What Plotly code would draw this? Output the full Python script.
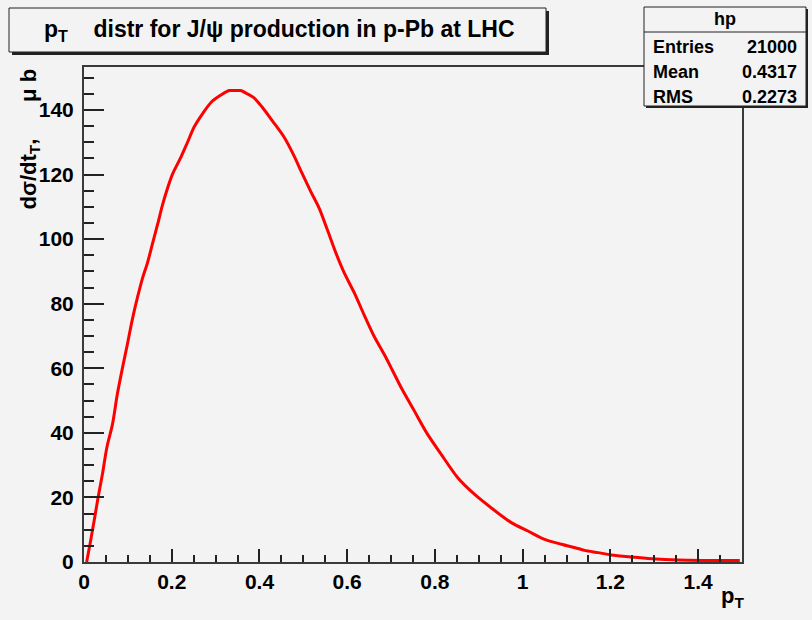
import plotly.graph_objects as go

# p_T spectrum of J/psi in p-Pb (histogram "hp")
pt = [0.006, 0.015, 0.023, 0.032, 0.042, 0.052, 0.065, 0.076, 0.088, 0.099,
      0.110, 0.122, 0.133, 0.145, 0.156, 0.168, 0.179, 0.190, 0.202, 0.221,
      0.236, 0.251, 0.270, 0.290, 0.312, 0.331, 0.345, 0.357, 0.372, 0.387,
      0.406, 0.429, 0.456, 0.478, 0.497, 0.517, 0.536, 0.555, 0.574, 0.593,
      0.616, 0.639, 0.661, 0.684, 0.703, 0.722, 0.753, 0.783, 0.814, 0.852,
      0.890, 0.928, 0.974, 1.012, 1.050, 1.088, 1.126, 1.141, 1.172, 1.202,
      1.248, 1.294, 1.355, 1.416, 1.495]
dsig = [0.0, 6.5, 12.7, 19.9, 27.2, 35.4, 42.7, 52.0, 60.3, 67.5,
        75.0, 82.0, 87.7, 92.8, 98.5, 104.7, 110.6, 115.6, 120.2, 125.4,
        130.0, 134.7, 138.8, 142.4, 144.6, 146.0, 146.0, 146.0, 145.0, 143.8,
        140.9, 136.7, 131.6, 126.0, 120.4, 114.7, 109.6, 102.8, 95.8, 89.6,
        83.4, 76.4, 70.0, 64.4, 59.4, 54.3, 46.8, 39.6, 33.4, 26.1,
        21.0, 16.8, 12.2, 9.6, 7.0, 5.5, 4.2, 3.6, 2.9, 2.2,
        1.55, 1.0, 0.6, 0.5, 0.5]

stats_labels = ["Entries", "Mean", "RMS"]
stats_values = ["21000", "0.4317", "0.2273"]
hist_name = "hp"

title_text = "p<sub>T</sub>\u00a0\u00a0\u00a0\u00a0distr for J/\u03c8 production in p-Pb at LHC"
ytitle_text = "d\u03c3/dt<sub>T</sub>,\u00a0\u00a0\u00a0\u00a0\u00a0\u00a0\u03bc\u00a0b"
xtitle_text = "p<sub>T</sub>"

W, H = 812, 620
L, R, T, B = 84, 742, 67, 562   # frame in pixels
BG = "#f3f3f3"
INK = "#000000"
FRAME = "#3a3a3a"
FONT = "Liberation Sans"


def fx(x):
    return (x - L) / (R - L)


def fy(y):
    return (B - y) / (B - T)


fig = go.Figure()
fig.add_trace(go.Scatter(x=pt, y=dsig, mode="lines",
                         line=dict(color="#ff0000", width=3, shape="spline",
                                   smoothing=0.8),
                         hoverinfo="skip", showlegend=False))

shapes = []
annotations = []


def boxed(x0, y0, x1, y1, shadow):
    shapes.append(dict(type="rect", xref="paper", yref="paper",
                       x0=fx(x0 + shadow), x1=fx(x1 + shadow),
                       y0=fy(y0 + shadow), y1=fy(y1 + shadow),
                       fillcolor="#222222", line=dict(width=0), layer="above"))
    shapes.append(dict(type="rect", xref="paper", yref="paper",
                       x0=fx(x0), x1=fx(x1), y0=fy(y0), y1=fy(y1),
                       fillcolor=BG, line=dict(color="#222222", width=1),
                       layer="above"))


# title pave
boxed(9, 8, 546, 52, 3)
annotations.append(dict(text=title_text, xref="paper", yref="paper",
                        x=fx(279), y=fy(31), xanchor="center", yanchor="middle",
                        showarrow=False,
                        font=dict(family=FONT, size=23, color=INK, weight="bold")))

# statistics pave
boxed(644, 7, 806, 106, 2)
shapes.append(dict(type="line", xref="paper", yref="paper",
                   x0=fx(644), x1=fx(806), y0=fy(32), y1=fy(32),
                   line=dict(color="#222222", width=1), layer="above"))
annotations.append(dict(text=hist_name, xref="paper", yref="paper",
                        x=fx(725), y=fy(19), xanchor="center", yanchor="middle",
                        showarrow=False,
                        font=dict(family=FONT, size=18, color=INK, weight="bold")))
for i, (lab, val) in enumerate(zip(stats_labels, stats_values)):
    yy = 47 + i * 25
    annotations.append(dict(text=lab, xref="paper", yref="paper",
                            x=fx(651), y=fy(yy), xanchor="left", yanchor="middle",
                            showarrow=False,
                            font=dict(family=FONT, size=18, color=INK, weight="bold")))
    annotations.append(dict(text=val, xref="paper", yref="paper",
                            x=fx(799), y=fy(yy), xanchor="right", yanchor="middle",
                            showarrow=False,
                            font=dict(family=FONT, size=18, color=INK, weight="bold")))

# axis titles
annotations.append(dict(text=ytitle_text, xref="paper", yref="paper",
                        x=fx(29), y=1.0, xanchor="center", yanchor="top",
                        textangle=-90, showarrow=False,
                        font=dict(family=FONT, size=22, color=INK, weight="bold")))
annotations.append(dict(text=xtitle_text, xref="paper", yref="paper",
                        x=fx(746), y=fy(597), xanchor="right", yanchor="middle",
                        showarrow=False,
                        font=dict(family=FONT, size=22, color=INK, weight="bold")))

tickfont = dict(family=FONT, size=21, color=INK, weight="bold")
fig.update_layout(
    width=W, height=H,
    margin=dict(l=L, r=W - R, t=T, b=H - B, pad=0),
    paper_bgcolor=BG, plot_bgcolor=BG,
    shapes=shapes, annotations=annotations,
    xaxis=dict(range=[0, 1.5], tick0=0, dtick=0.2, ticks="inside", ticklen=13,
               tickwidth=1.5, tickcolor="#222222", showline=True,
               linecolor=FRAME, linewidth=2, mirror=True, showgrid=False,
               zeroline=False, tickfont=tickfont,
               minor=dict(dtick=0.05, ticks="inside", ticklen=7, tickwidth=1.5,
                          tickcolor="#222222", showgrid=False)),
    yaxis=dict(range=[0, 153.3], tick0=0, dtick=20, ticks="inside", ticklen=20,
               tickwidth=1.5, tickcolor="#222222", showline=True,
               linecolor=FRAME, linewidth=2, mirror=True, showgrid=False,
               zeroline=False, tickfont=tickfont, ticklabelstandoff=4,
               minor=dict(dtick=5, ticks="inside", ticklen=10, tickwidth=1.5,
                          tickcolor="#222222", showgrid=False)),
)

fig.write_html("out.html")
